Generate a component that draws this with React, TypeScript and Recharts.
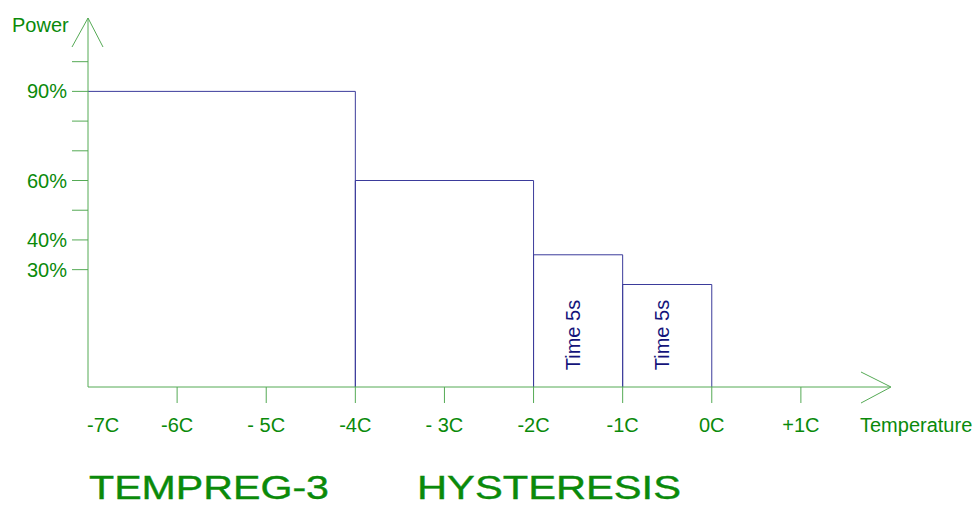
import React from 'react';
import { ComposedChart, XAxis, YAxis, ReferenceArea, Label } from 'recharts';

const temps = [-7, -6, -5, -4, -3, -2, -1, 0, 1];
const tempLabels = ['-7C', '-6C', '- 5C', '-4C', '- 3C', '-2C', '-1C', '0C', '+1C'];
const powerTicks = [30, 40, 50, 60, 70, 80, 90, 100];
const powerLabels: Record<number, string> = { 90: '90%', 60: '60%', 40: '40%', 30: '30%' };

const stepStart = [-7, -4, -2, -1];
const stepEnd = [-4, -2, -1, 0];
const stepPower = [90, 60, 35, 25];
const stepNote = ['', '', 'Time 5s', 'Time 5s'];

const xDomain = [-7, 2];
const yDomain = [-9.5, 114.7];

const steps = stepStart.map((s, i) => ({ start: s, end: stepEnd[i], power: stepPower[i], note: stepNote[i] }));

const FONT = '"Liberation Sans", Arial, sans-serif';
const TEXT_GREEN = '#0a8a0a';
const AXIS_GREEN = '#55aa55';
const NAVY = '#3b3b9b';

const YTick = (props: any) => {
  const { x, y, payload } = props;
  const label = powerLabels[payload.value];
  return (
    <g>
      <line x1={x - 16} x2={x} y1={y} y2={y} stroke={AXIS_GREEN} />
      {label && (
        <text x={x - 21} y={y + 7} textAnchor="end" fontSize={20} fontFamily={FONT} fill={TEXT_GREEN}>
          {label}
        </text>
      )}
    </g>
  );
};

const XTick = (props: any) => {
  const { x, y, index } = props;
  const first = index === 0;
  return (
    <g>
      {!first && <line x1={x} x2={x} y1={y} y2={y + 16} stroke={AXIS_GREEN} />}
      <text x={first ? x - 1 : x} y={y + 45} textAnchor={first ? 'start' : 'middle'} fontSize={20} fontFamily={FONT} fill={TEXT_GREEN}>
        {tempLabels[index]}
      </text>
    </g>
  );
};

const YAxisDecor = (props: any) => {
  const vb = props.viewBox || { x: 0, y: 18, width: 88, height: 369 };
  const tx = vb.x + vb.width;
  const ty = vb.y;
  return (
    <g>
      <polyline points={`${tx - 16},${ty + 29} ${tx},${ty} ${tx + 15},${ty + 29}`} fill="none" stroke={AXIS_GREEN} />
      <text x={12} y={ty + 14} fontSize={20} fontFamily={FONT} fill={TEXT_GREEN}>Power</text>
    </g>
  );
};

const XAxisDecor = (props: any) => {
  const vb = props.viewBox || { x: 88, y: 387, width: 802, height: 120 };
  const tx = vb.x + vb.width + 1;
  const ty = vb.y;
  return (
    <g>
      <polyline points={`${tx - 30},${ty - 15} ${tx},${ty} ${tx - 30},${ty + 16}`} fill="none" stroke={AXIS_GREEN} />
      <text x={860} y={ty + 45} fontSize={20} fontFamily={FONT} fill={TEXT_GREEN}>Temperature</text>
      <text x={89} y={ty + 112} fontSize={34} fontFamily={FONT} fill={TEXT_GREEN} stroke={TEXT_GREEN} strokeWidth={0.4} textLength={240} lengthAdjust="spacingAndGlyphs">
        TEMPREG-3
      </text>
      <text x={417} y={ty + 112} fontSize={34} fontFamily={FONT} fill={TEXT_GREEN} stroke={TEXT_GREEN} strokeWidth={0.4} textLength={264} lengthAdjust="spacingAndGlyphs">
        HYSTERESIS
      </text>
    </g>
  );
};

const StepShape = (props: any) => {
  const { x, y, width, height, first } = props;
  const bottom = y + height;
  const d = first
    ? `M${x},${y} H${x + width} V${bottom}`
    : `M${x},${bottom} V${y} H${x + width} V${bottom}`;
  return <path d={d} fill="none" stroke={NAVY} strokeWidth={1} />;
};

const noteLabel = (note: string) => (props: any) => {
  const vb = props.viewBox;
  if (!note || !vb) return null;
  const cx = vb.x + vb.width / 2 + 2;
  const cy = vb.y + vb.height - 52;
  return (
    <text x={cx} y={cy} transform={`rotate(-90 ${cx} ${cy})`} textAnchor="middle" fontSize={20} fontFamily={FONT} fill="#14147a">
      {note}
    </text>
  );
};

export default function App() {
  return (
    <div style={{ position: 'absolute', left: 0, top: 0, background: '#fff' }}>
      <ComposedChart width={978} height={507} data={steps} margin={{ top: 18, right: 88, bottom: 0, left: 0 }}>
        <XAxis
          type="number"
          dataKey="start"
          domain={xDomain}
          ticks={temps}
          allowDataOverflow
          interval={0}
          height={120}
          tickSize={0}
          tickMargin={0}
          tick={<XTick />}
          axisLine={{ stroke: AXIS_GREEN }}
          label={<Label content={<XAxisDecor />} />}
        />
        <YAxis
          type="number"
          domain={yDomain}
          ticks={powerTicks}
          allowDataOverflow
          interval={0}
          width={88}
          tickSize={0}
          tickMargin={0}
          tick={<YTick />}
          axisLine={{ stroke: AXIS_GREEN }}
          label={<Label content={<YAxisDecor />} />}
        />
        {steps.map((s, i) => (
          <ReferenceArea
            key={i}
            x1={s.start}
            x2={s.end}
            y1={yDomain[0]}
            y2={s.power}
            ifOverflow="visible"
            shape={(p: any) => <StepShape {...p} first={i === 0} />}
            label={noteLabel(s.note)}
          />
        ))}
      </ComposedChart>
    </div>
  );
}
